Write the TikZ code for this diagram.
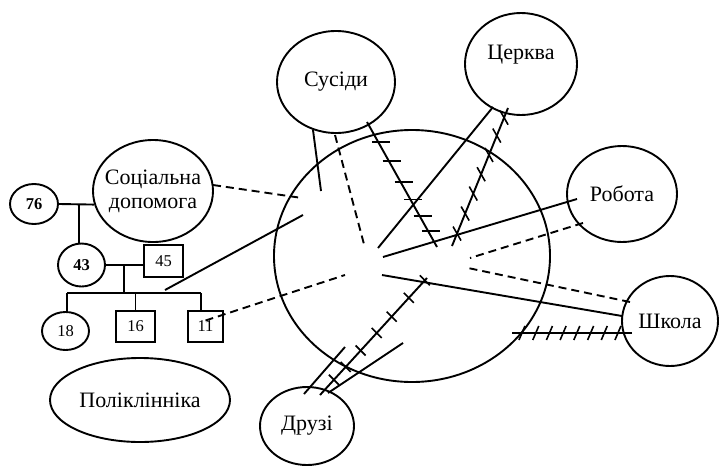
\documentclass[tikz,border=0pt]{standalone}
\usepackage{fontspec}
\setmainfont{Liberation Serif}
\usetikzlibrary{shapes.geometric,calc}
\begin{document}
\begin{tikzpicture}[x=1pt,y=-1pt,
  ln/.style={line width=1.9pt},
  dsh/.style={line width=1.9pt,dash pattern=on 8pt off 5pt},
  tk/.style={line width=1.6pt},
  ell/.style={ellipse,draw,line width=1.9pt,inner sep=0pt,font=\fontsize{22}{24}\selectfont,align=center},
  num/.style={draw,line width=1.9pt,inner sep=0pt,font=\fontsize{16.5}{18}\selectfont}]
\useasboundingbox (0,0) rectangle (720,466);

% main nodes
\node[ell,minimum width=276pt,minimum height=252pt] (big) at (412,256) {};
\node[ell,minimum width=118pt,minimum height=102pt] (sus) at (336,82) {Сусіди};
\node[ell,minimum width=112pt,minimum height=102pt] (cer) at (521,64) {\raisebox{10pt}[15pt][5pt]{Церква}};
\node[ell,minimum width=110pt,minimum height=96pt] (rob) at (622,194) {Робота};
\node[ell,minimum width=96pt,minimum height=90pt] (shk) at (670,321) {Школа};
\node[ell,minimum width=94pt,minimum height=78pt] (dru) at (307,426) {Друзі};
\node[ell,minimum width=180pt,minimum height=84pt] (pol) at (140,400) {Поліклінніка};
\node[ell,minimum width=120pt,minimum height=102pt] (soc) at (153,191) {\makebox[0pt]{Соціальна}\\\makebox[0pt]{допомога}};

% genogram
\node[num,ellipse,minimum width=48pt,minimum height=40pt] (c76) at (34,204) {\bfseries 76};
\node[num,ellipse,minimum width=47pt,minimum height=43pt] (c43) at (81.5,265) {\bfseries 43};
\node[num,rectangle,minimum width=39pt,minimum height=32pt] (sq45) at (163.5,261) {45};
\node[num,ellipse,minimum width=47pt,minimum height=38pt] (c18) at (65.5,331) {18};
\node[num,rectangle,minimum width=39pt,minimum height=31pt] (sq16) at (135.5,326.5) {16};
\node[num,rectangle,minimum width=35pt,minimum height=31pt] (sq11) at (205.5,326.5) {11};

\coordinate (m1) at (79,204);
\coordinate (m2) at (124,265);
\coordinate (sL) at (67,293);
\coordinate (sR) at (201,293);
\draw[ln] (c76.east) -- (soc.193);
\draw[ln] (m1) -- (m1 |- c43.north);
\draw[ln] (c43.east) -- (c43.east -| sq45.west);
\draw[ln] (m2) -- (m2 |- sL);
\draw[ln] (sL) -- (sR);
\draw[ln] (sL) -- (sL |- c18.north);
\draw[ln] (sq16.north |- sL) -- (sq16.north);
\draw[ln] (sR) -- (sR |- sq11.north);

% connectors
\draw[ln] ($(sus.center)+(-23,48)$) -- ($(big.center)+(-91,-65)$);
\draw[dsh] ($(sus.center)+(-1,53)$) -- ($(big.center)+(-47,-8)$);
\draw[ln] ($(sus.center)+(31,40)$) coordinate (a3) -- ($(big.center)+(25,-9)$) coordinate (b3);
\foreach \t in {0.16,0.31,0.48,0.62,0.75,0.87}
  \draw[tk] ($(a3)!\t!(b3)+(-6,0)$) -- ++(18,0);

\draw[ln] ($(cer.center)+(-28,43)$) -- ($(big.center)+(-34,-8)$);
\draw[ln] ($(big.center)+(40,-10)$) coordinate (a5) -- ($(cer.center)+(-13,44)$) coordinate (b5);
\foreach \t in {0.09,0.235,0.38,0.52,0.66,0.80,0.93}
  \draw[tk] ($(a5)!\t!(b5)+(-4,-7)$) -- ++(8,14);

\draw[ln] ($(rob.center)+(-45,5)$) -- ($(big.center)+(-29,1)$);
\draw[dsh] ($(rob.center)+(-39,29)$) -- ($(big.center)+(58,2)$);

\draw[dsh] ($(shk.center)+(-40,-19)$) -- ($(big.center)+(56,12)$);
\draw[ln] ($(shk.center)+(-48,-5)$) -- ($(big.center)+(-30,19)$);
\draw[ln] ($(shk.center)+(-38,12)$) coordinate (a10) -- ($(big.center)+(100,77)$) coordinate (b10);
\foreach \t in {0.117,0.231,0.345,0.460,0.574,0.688,0.802,0.917}
  \draw[tk] ($(a10)!\t!(b10)+(-3,7)$) -- ++(6,-14);

\draw[ln] ($(dru.center)+(13,-31)$) coordinate (a11) -- ($(big.center)+(15,22)$) coordinate (b11);
\foreach \t in {0.13,0.24,0.38,0.53,0.67,0.83,0.98}
  \draw[tk] ($(a11)!\t!(b11)+(-5,-5)$) -- ++(10,10);
\draw[ln] ($(dru.center)+(-3,-32)$) -- ($(big.center)+(-67,91)$);
\draw[ln] ($(dru.center)+(21,-33)$) -- ($(big.center)+(-9,87)$);

\draw[dsh] ($(soc.center)+(60,-6)$) -- ($(big.center)+(-110,-58)$);
\draw[ln] ($(sq45.center)+(1.5,29)$) -- ($(big.center)+(-109,-41)$);
\draw[dsh] ($(sq11.center)+(0,-6)$) -- ($(big.center)+(-67,19)$);
\end{tikzpicture}
\end{document}
